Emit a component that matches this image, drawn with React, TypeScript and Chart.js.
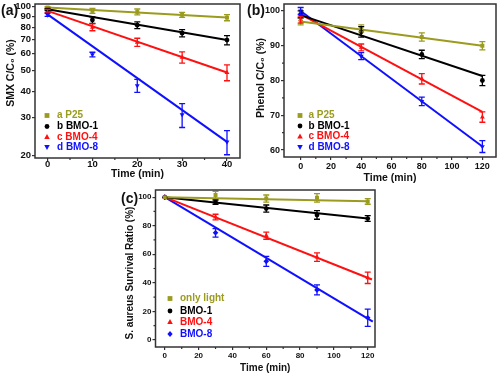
import React, { useEffect, useRef } from "react";
import { Chart, registerables } from "chart.js";

Chart.register(...registerables);

const FONT = "'Liberation Sans', Arial, Helvetica, sans-serif";
const OLIVE = "#9b9b1f";
const BLACK = "#000000";
const RED = "#ff1010";
const BLUE = "#1010ff";

// ---------- Panel (a): SMX, log axis ----------
const A_TIME = [0, 10, 20, 30, 40];
const A_P25 = [99, 95.5, 94.5, 91.5, 88.8];
const A_P25_ERR = [1, 2.5, 3, 2.5, 3];
const A_BMO1 = [97, 86.5, 81.8, 75, 69.6];
const A_BMO1_ERR = [1, 3, 3, 3, 3.5];
const A_BMO4 = [95.5, 80, 68, 57.7, 49];
const A_BMO4_ERR = [1.5, 3, 3, 3.5, 4.2];
const A_BMO8 = [91.5, 59.5, 42.5, 31, 23.1];
const A_BMO8_ERR = [1.5, 1.5, 3, 4, 3];
const A_FIT_X = [0, 40];
const A_FIT_P25 = [99, 88.8];
const A_FIT_BMO1 = [97.2, 69.6];
const A_FIT_BMO4 = [95.5, 49];
const A_FIT_BMO8 = [92, 23.1];
const A_X_TICKS = [0, 10, 20, 30, 40];
const A_X_MINOR = [5, 15, 25, 35];
const A_Y_TICKS = [20, 30, 40, 50, 60, 70, 80, 90, 100];

// ---------- Panel (b): Phenol ----------
const B_TIME = [0, 40, 80, 120];
const B_P25 = [97, 95, 92.5, 90];
const B_P25_ERR = [1, 1, 1.2, 1.2];
const B_BMO1 = [99, 94, 87.5, 80];
const B_BMO1_ERR = [1, 1.5, 1.2, 1.5];
const B_BMO4 = [97.5, 89.5, 80.5, 69.5];
const B_BMO4_ERR = [1, 1, 1.5, 1.5];
const B_BMO8 = [100, 87, 74, 61];
const B_BMO8_ERR = [1, 1, 1.2, 1.7];
const B_FIT_X = [0, 120];
const B_FIT_P25 = [97, 90];
const B_FIT_BMO1 = [98.8, 81.3];
const B_FIT_BMO4 = [99, 71];
const B_FIT_BMO8 = [100, 61];
const B_X_TICKS = [0, 20, 40, 60, 80, 100, 120];
const B_X_MINOR = [10, 30, 50, 70, 90, 110];
const B_Y_TICKS = [60, 70, 80, 90, 100];
const B_Y_MINOR = [65, 75, 85, 95];

// ---------- Panel (c): S. aureus ----------
const C_TIME = [0, 30, 60, 90, 120];
const C_LIGHT = [100, 101.5, 99, 99.5, 97];
const C_LIGHT_ERR = [0, 2.5, 2.5, 3, 2];
const C_BMO1 = [100, 96.5, 92, 87.5, 85];
const C_BMO1_ERR = [0, 1.5, 2.5, 3, 2];
const C_BMO4 = [100, 86, 73, 58, 43.5];
const C_BMO4_ERR = [0, 2, 2.5, 3, 4];
const C_BMO8 = [100, 75, 55, 35, 15.5];
const C_BMO8_ERR = [0, 3, 3.5, 3.5, 6];
const C_FIT_LIGHT_X = [0, 120];
const C_FIT_LIGHT = [100, 97.2];
const C_FIT_BMO1_X = [0, 120];
const C_FIT_BMO1 = [100, 85];
const C_FIT_BMO4_X = [0, 122.5];
const C_FIT_BMO4 = [100, 42.3];
const C_FIT_BMO8_X = [0, 123];
const C_FIT_BMO8 = [100, 12.8];
const C_X_TICKS = [0, 20, 40, 60, 80, 100, 120];
const C_X_MINOR = [10, 30, 50, 70, 90, 110];
const C_Y_TICKS = [0, 20, 40, 60, 80, 100];
const C_Y_MINOR = [10, 30, 50, 70, 90];

type Series = {
  label: string;
  color: string;
  style: string;
  x: number[];
  y: number[];
  err: number[];
  fitX: number[];
  fitY: number[];
};

function drawMarker(ctx: CanvasRenderingContext2D, style: string, x: number, y: number, r: number, color: string) {
  ctx.save();
  ctx.fillStyle = color;
  ctx.beginPath();
  if (style === "rect") {
    ctx.rect(x - r, y - r, 2 * r, 2 * r);
  } else if (style === "circle") {
    ctx.arc(x, y, r, 0, Math.PI * 2);
  } else if (style === "triangle") {
    ctx.moveTo(x, y - r * 1.25);
    ctx.lineTo(x + r * 1.15, y + r * 0.85);
    ctx.lineTo(x - r * 1.15, y + r * 0.85);
    ctx.closePath();
  } else if (style === "triangleDown") {
    ctx.moveTo(x, y + r * 1.25);
    ctx.lineTo(x + r * 1.15, y - r * 0.85);
    ctx.lineTo(x - r * 1.15, y - r * 0.85);
    ctx.closePath();
  } else if (style === "diamond") {
    ctx.moveTo(x, y - r * 1.3);
    ctx.lineTo(x + r * 1.1, y);
    ctx.lineTo(x, y + r * 1.3);
    ctx.lineTo(x - r * 1.1, y);
    ctx.closePath();
  }
  ctx.fill();
  ctx.restore();
}

const errorBarPlugin = {
  id: "errorBars",
  afterDatasetsDraw(chart: any) {
    const ctx = chart.ctx;
    const xs = chart.scales.x;
    const ys = chart.scales.y;
    chart.data.datasets.forEach((ds: any) => {
      if (!ds.errors) return;
      ctx.save();
      ctx.strokeStyle = ds.borderColor;
      ctx.lineWidth = 1.3;
      ds.data.forEach((p: any, j: number) => {
        const e = ds.errors[j];
        if (!e) return;
        const px = xs.getPixelForValue(p.x);
        const y1 = ys.getPixelForValue(p.y + e);
        const y2 = ys.getPixelForValue(p.y - e);
        ctx.beginPath();
        ctx.moveTo(px, y1);
        ctx.lineTo(px, y2);
        ctx.moveTo(px - 3, y1);
        ctx.lineTo(px + 3, y1);
        ctx.moveTo(px - 3, y2);
        ctx.lineTo(px + 3, y2);
        ctx.stroke();
      });
      ctx.restore();
    });
  },
};

function makeDecorPlugin(cfg: PanelCfg) {
  const { xMinor, yMinor, legend, series } = cfg;
  return {
    id: "decor",
    afterDraw(chart: any) {
      const ctx = chart.ctx;
      const a = chart.chartArea;
      const xs = chart.scales.x;
      const ys = chart.scales.y;
      ctx.save();
      ctx.strokeStyle = "#333";
      ctx.lineWidth = 1.2;
      ctx.beginPath();
      xMinor.forEach((v) => {
        const px = xs.getPixelForValue(v);
        ctx.moveTo(px, a.bottom);
        ctx.lineTo(px, a.bottom + 2);
      });
      yMinor.forEach((v) => {
        const py = ys.getPixelForValue(v);
        ctx.moveTo(a.left - 2, py);
        ctx.lineTo(a.left, py);
      });
      ctx.stroke();
      ctx.lineWidth = 1.5;
      ctx.strokeRect(a.left, a.top, a.right - a.left, a.bottom - a.top);
      // y axis title (rotated)
      ctx.save();
      ctx.translate(cfg.yTitleX, cfg.yTitleY);
      ctx.rotate(-Math.PI / 2);
      ctx.font = `bold ${cfg.titleSize}px ${FONT}`;
      ctx.fillStyle = "#111";
      ctx.textAlign = "center";
      ctx.textBaseline = "middle";
      ctx.fillText(cfg.yTitle, 0, 0);
      ctx.restore();
      // legend
      ctx.font = `bold ${legend.size}px ${FONT}`;
      ctx.textBaseline = "middle";
      ctx.textAlign = "left";
      series.forEach((s, i) => {
        const y = legend.ys[i];
        drawMarker(ctx, s.style, legend.mx, y, 2.4, s.color);
        ctx.fillStyle = s.color;
        ctx.fillText(s.label, legend.tx, y);
      });
      ctx.restore();
    },
  };
}

type PanelCfg = {
  left: number;
  top: number;
  width: number;
  height: number;
  padding: { left: number; right: number; top: number; bottom: number };
  yWidth: number;
  xHeight: number;
  xMin: number;
  xMax: number;
  xTicks: number[];
  xMinor: number[];
  yLog: boolean;
  yMin: number;
  yMax: number;
  yTicks: number[];
  yMinor: number[];
  xTitle: string;
  yTitle: string;
  yTitleX: number;
  yTitleY: number;
  tickSize: number;
  titleSize: number;
  xTickPad: number;
  xTitlePad: number;
  series: Series[];
  legend: { mx: number; tx: number; ys: number[]; size: number };
};

function buildConfig(cfg: PanelCfg): any {
  const datasets: any[] = [];
  cfg.series.forEach((s) => {
    datasets.push({
      label: s.label,
      data: s.x.map((t, i) => ({ x: t, y: s.y[i] })),
      errors: s.err,
      pointStyle: s.style === "triangleDown" ? "triangle" : s.style === "diamond" ? "rectRot" : s.style,
      rotation: s.style === "triangleDown" ? 180 : 0,
      pointRadius: s.style === "circle" ? 2.4 : 2.8,
      backgroundColor: s.color,
      borderColor: s.color,
      borderWidth: 0,
      showLine: false,
      order: 1,
    });
    datasets.push({
      label: s.label + " fit",
      data: s.fitX.map((t, i) => ({ x: t, y: s.fitY[i] })),
      showLine: true,
      pointRadius: 0,
      borderColor: s.color,
      backgroundColor: s.color,
      borderWidth: 2,
      order: 2,
    });
  });
  const tickFont = { family: FONT, size: cfg.tickSize, weight: "bold" };
  const titleFont = { family: FONT, size: cfg.titleSize, weight: "bold" };
  return {
    type: "scatter",
    data: { datasets },
    options: {
      responsive: false,
      animation: false,
      devicePixelRatio: 1,
      layout: { padding: cfg.padding },
      plugins: { legend: { display: false }, tooltip: { enabled: false } },
      scales: {
        x: {
          type: "linear",
          min: cfg.xMin,
          max: cfg.xMax,
          afterBuildTicks: (s: any) => {
            s.ticks = cfg.xTicks.map((v) => ({ value: v }));
          },
          afterFit: (s: any) => {
            s.height = cfg.xHeight;
            s.paddingLeft = 0;
            s.paddingRight = 0;
          },
          grid: { drawOnChartArea: false, drawTicks: true, tickLength: 3, color: "#333", lineWidth: 1.2 },
          border: { display: false },
          ticks: { font: tickFont, color: "#111", padding: cfg.xTickPad, maxRotation: 0, autoSkip: false, callback: (v: any) => String(v) },
          title: { display: true, text: cfg.xTitle, font: titleFont, color: "#111", padding: { top: 0, bottom: cfg.xTitlePad } },
        },
        y: {
          type: cfg.yLog ? "logarithmic" : "linear",
          min: cfg.yMin,
          max: cfg.yMax,
          afterBuildTicks: (s: any) => {
            s.ticks = cfg.yTicks.map((v) => ({ value: v }));
          },
          afterFit: (s: any) => {
            s.width = cfg.yWidth;
            s.paddingTop = 0;
            s.paddingBottom = 0;
          },
          grid: { drawOnChartArea: false, drawTicks: true, tickLength: 3, color: "#333", lineWidth: 1.2 },
          border: { display: false },
          ticks: { font: tickFont, color: "#111", padding: 1, autoSkip: false, callback: (v: any) => String(v) },
          title: { display: false },
        },
      },
    },
    plugins: [errorBarPlugin, makeDecorPlugin(cfg)],
  };
}

function Panel({ cfg }: { cfg: PanelCfg }) {
  const ref = useRef<HTMLCanvasElement>(null);
  useEffect(() => {
    if (!ref.current) return;
    const chart = new Chart(ref.current, buildConfig(cfg));
    return () => chart.destroy();
  }, []);
  return (
    <div style={{ position: "absolute", left: cfg.left, top: cfg.top, width: cfg.width, height: cfg.height }}>
      <canvas ref={ref} width={cfg.width} height={cfg.height} style={{ width: cfg.width, height: cfg.height, display: "block" }} />
    </div>
  );
}

const seriesA: Series[] = [
  { label: "a P25", color: OLIVE, style: "rect", x: A_TIME, y: A_P25, err: A_P25_ERR, fitX: A_FIT_X, fitY: A_FIT_P25 },
  { label: "b BMO-1", color: BLACK, style: "circle", x: A_TIME, y: A_BMO1, err: A_BMO1_ERR, fitX: A_FIT_X, fitY: A_FIT_BMO1 },
  { label: "c BMO-4", color: RED, style: "triangle", x: A_TIME, y: A_BMO4, err: A_BMO4_ERR, fitX: A_FIT_X, fitY: A_FIT_BMO4 },
  { label: "d BMO-8", color: BLUE, style: "triangleDown", x: A_TIME, y: A_BMO8, err: A_BMO8_ERR, fitX: A_FIT_X, fitY: A_FIT_BMO8 },
];

const seriesB: Series[] = [
  { label: "a P25", color: OLIVE, style: "rect", x: B_TIME, y: B_P25, err: B_P25_ERR, fitX: B_FIT_X, fitY: B_FIT_P25 },
  { label: "b BMO-1", color: BLACK, style: "circle", x: B_TIME, y: B_BMO1, err: B_BMO1_ERR, fitX: B_FIT_X, fitY: B_FIT_BMO1 },
  { label: "c BMO-4", color: RED, style: "triangle", x: B_TIME, y: B_BMO4, err: B_BMO4_ERR, fitX: B_FIT_X, fitY: B_FIT_BMO4 },
  { label: "d BMO-8", color: BLUE, style: "triangleDown", x: B_TIME, y: B_BMO8, err: B_BMO8_ERR, fitX: B_FIT_X, fitY: B_FIT_BMO8 },
];

const seriesC: Series[] = [
  { label: "only light", color: OLIVE, style: "rect", x: C_TIME, y: C_LIGHT, err: C_LIGHT_ERR, fitX: C_FIT_LIGHT_X, fitY: C_FIT_LIGHT },
  { label: "BMO-1", color: BLACK, style: "circle", x: C_TIME, y: C_BMO1, err: C_BMO1_ERR, fitX: C_FIT_BMO1_X, fitY: C_FIT_BMO1 },
  { label: "BMO-4", color: RED, style: "triangle", x: C_TIME, y: C_BMO4, err: C_BMO4_ERR, fitX: C_FIT_BMO4_X, fitY: C_FIT_BMO4 },
  { label: "BMO-8", color: BLUE, style: "diamond", x: C_TIME, y: C_BMO8, err: C_BMO8_ERR, fitX: C_FIT_BMO8_X, fitY: C_FIT_BMO8 },
];

const cfgA: PanelCfg = {
  left: 0, top: 0, width: 250, height: 190,
  padding: { left: 0, right: 10, top: 3, bottom: 0 },
  yWidth: 35, xHeight: 32,
  xMin: -2.8, xMax: 42.9, xTicks: A_X_TICKS, xMinor: A_X_MINOR,
  yLog: true, yMin: 19.4, yMax: 102.9, yTicks: A_Y_TICKS, yMinor: [],
  xTitle: "Time (min)", yTitle: "SMX C/C\u2080 (%)", yTitleX: 11, yTitleY: 73,
  tickSize: 9.5, titleSize: 10.5, xTickPad: -2, xTitlePad: 10,
  series: seriesA,
  legend: { mx: 47, tx: 57, ys: [115.5, 126.5, 137, 147], size: 10 },
};

const cfgB: PanelCfg = {
  left: 250, top: 0, width: 250, height: 190,
  padding: { left: 0, right: 1, top: 2, bottom: 0 },
  yWidth: 34, xHeight: 33,
  xMin: -11, xMax: 129, xTicks: B_X_TICKS, xMinor: B_X_MINOR,
  yLog: false, yMin: 58, yMax: 102, yTicks: B_Y_TICKS, yMinor: B_Y_MINOR,
  xTitle: "Time (min)", yTitle: "Phenol C/C\u2080 (%)", yTitleX: 11.5, yTitleY: 78,
  tickSize: 9, titleSize: 10.5, xTickPad: 1, xTitlePad: 6,
  series: seriesB,
  legend: { mx: 50, tx: 58.5, ys: [115.5, 126, 136.5, 147], size: 10 },
};

const cfgC: PanelCfg = {
  left: 90, top: 185, width: 320, height: 195,
  padding: { left: 30, right: 35, top: 5, bottom: 0 },
  yWidth: 35.5, xHeight: 33,
  xMin: -5.5, xMax: 124.3, xTicks: C_X_TICKS, xMinor: C_X_MINOR,
  yLog: false, yMin: -5, yMax: 105, yTicks: C_Y_TICKS, yMinor: C_Y_MINOR,
  xTitle: "Time (min)", yTitle: "S. aureus Survival Ratio (%)", yTitleX: 40, yTitleY: 88,
  tickSize: 8, titleSize: 10, xTickPad: 1, xTitlePad: 6,
  series: seriesC,
  legend: { mx: 80, tx: 90, ys: [113.5, 126, 137, 149], size: 10 },
};

const labelStyle: React.CSSProperties = {
  position: "absolute",
  fontFamily: FONT,
  fontWeight: "bold",
  fontSize: 14,
  lineHeight: "16px",
  color: "#111",
};

export default function App() {
  return (
    <div style={{ position: "fixed", left: 0, top: 0, width: 500, height: 380, background: "#fff", overflow: "hidden" }}>
      <Panel cfg={cfgA} />
      <Panel cfg={cfgB} />
      <Panel cfg={cfgC} />
      <div style={{ ...labelStyle, left: 1, top: 2 }}>(a)</div>
      <div style={{ ...labelStyle, left: 247, top: 2 }}>(b)</div>
      <div style={{ ...labelStyle, left: 121, top: 190 }}>(c)</div>
    </div>
  );
}
